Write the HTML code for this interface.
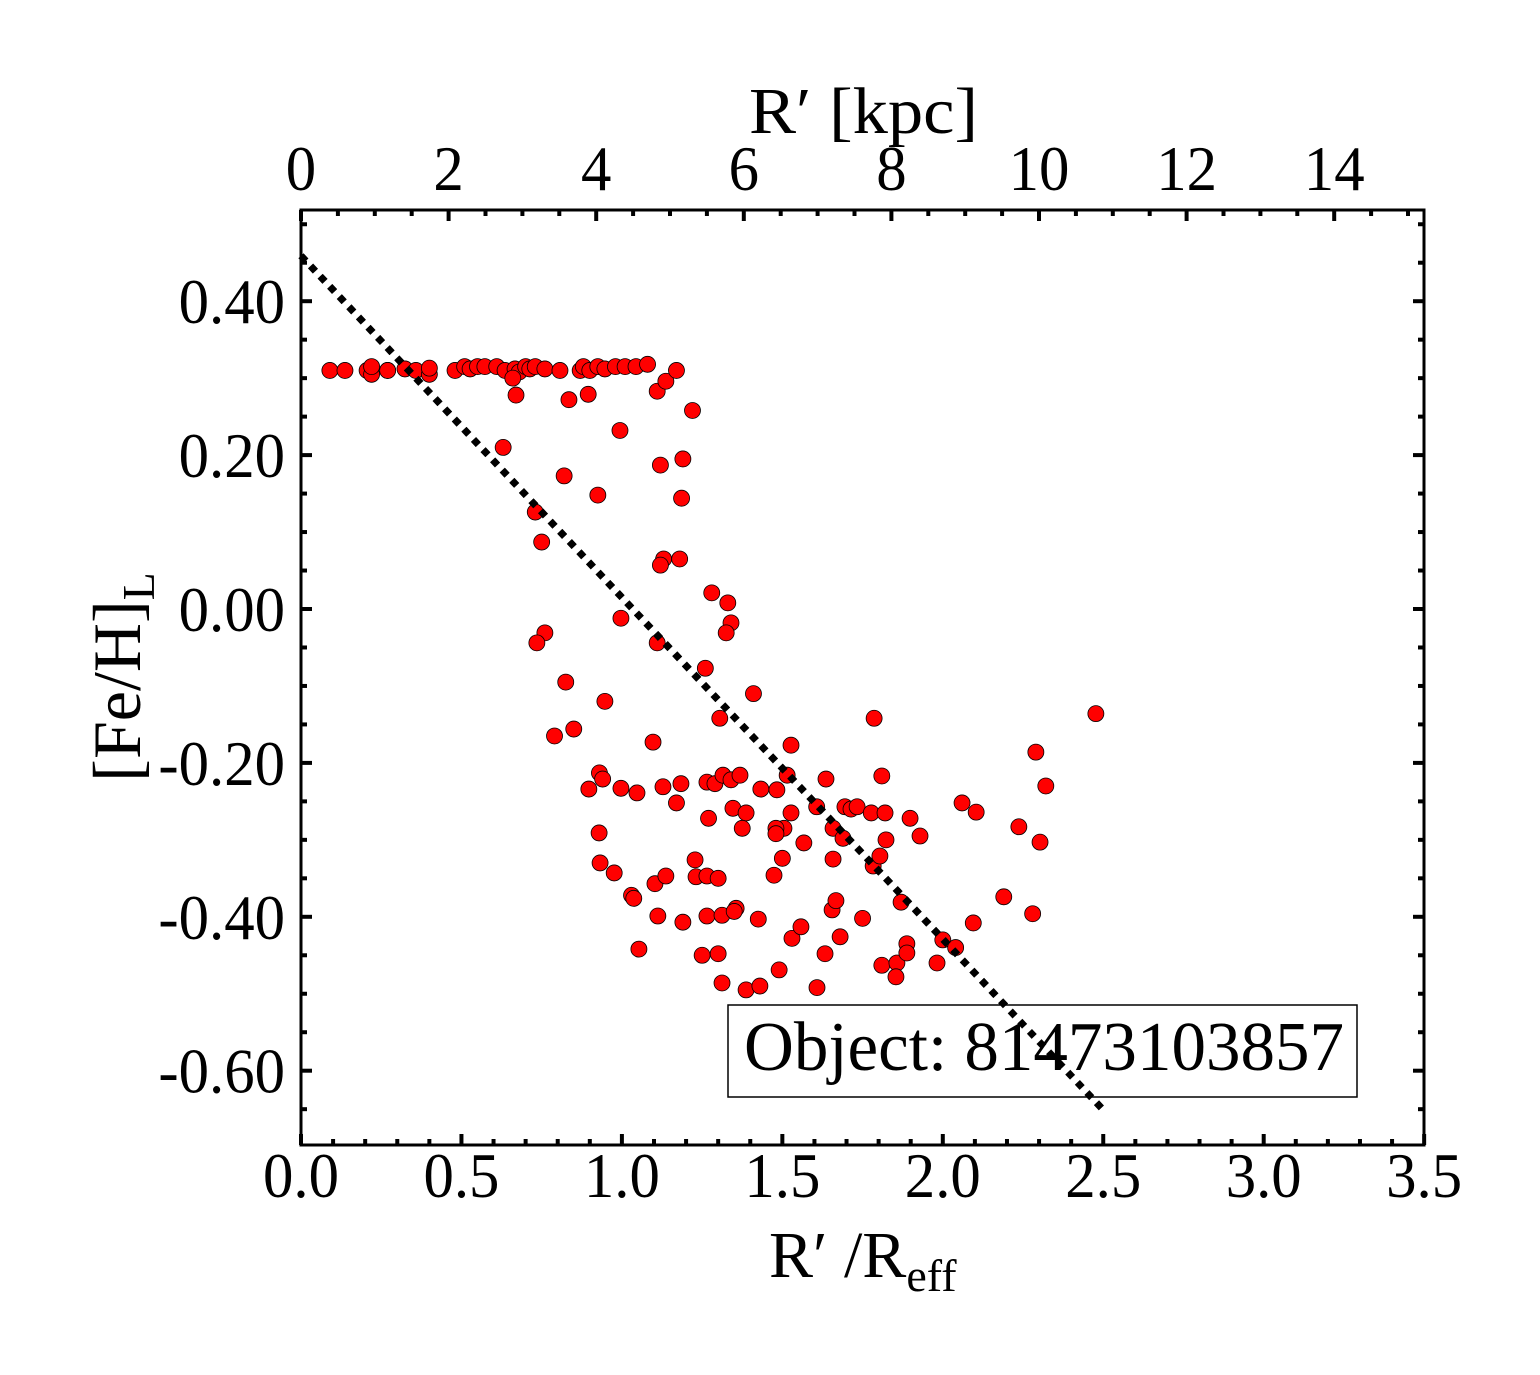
<!DOCTYPE html>
<html><head><meta charset="utf-8"><style>
html,body{margin:0;padding:0;background:#fff;}
svg{display:block;font-family:"Liberation Serif",serif;}
</style></head><body>
<svg id="chart" width="1540" height="1375" viewBox="0 0 1540 1375">
<rect x="0" y="0" width="1540" height="1375" fill="#fff"/>
<g id="plot"></g>
</svg>
<script>
const xVals = [0.09,0.137,0.206,0.22,0.22,0.27,0.27,0.324,0.358,0.4,0.4,0.48,0.51,0.527,0.55,0.573,0.61,0.636,0.667,0.68,0.7,0.713,0.73,0.76,0.807,0.87,0.88,0.9,0.925,0.947,0.98,1.01,1.044,1.08,
0.66,0.67,0.835,0.895,1.11,1.137,1.17,1.22,0.994,0.63,
0.82,0.925,1.12,1.19,1.186,0.73,0.75,1.13,1.12,1.18,1.28,1.33,1.34,1.325,0.997,0.76,0.735,1.11,1.26,0.825,0.947,1.41,1.305,0.79,0.85,1.097,1.527,1.786,2.477,2.29,
0.93,0.94,0.897,0.997,1.047,1.128,1.184,1.17,1.265,1.29,1.315,1.34,1.368,1.346,1.387,1.375,1.27,1.433,1.483,1.515,1.527,1.505,1.48,1.48,1.567,1.5,1.636,1.607,1.695,1.714,1.733,1.777,1.82,1.81,1.898,1.658,1.689,1.823,1.929,2.06,2.104,2.237,2.303,2.321,2.19,2.28,2.095,
0.929,0.932,0.976,1.03,1.037,1.103,1.137,1.228,1.231,1.265,1.3,1.053,1.112,1.19,1.265,1.312,1.356,1.35,1.425,1.25,1.3,1.312,1.387,1.43,1.49,1.53,1.558,1.474,1.633,1.608,1.655,1.667,1.68,1.75,1.658,1.783,1.804,1.87,1.81,1.857,1.854,1.888,1.888,1.982,2.0,2.04];
const yVals = [0.31,0.31,0.31,0.305,0.315,0.31,0.31,0.312,0.31,0.305,0.313,0.31,0.315,0.312,0.315,0.315,0.315,0.31,0.312,0.308,0.315,0.312,0.315,0.312,0.31,0.31,0.315,0.31,0.315,0.312,0.315,0.315,0.315,0.318,
0.30,0.278,0.272,0.279,0.283,0.296,0.31,0.258,0.232,0.21,
0.173,0.148,0.187,0.195,0.144,0.126,0.087,0.065,0.057,0.065,0.021,0.008,-0.018,-0.031,-0.012,-0.031,-0.044,-0.044,-0.077,-0.095,-0.12,-0.11,-0.142,-0.165,-0.156,-0.173,-0.177,-0.142,-0.136,-0.186,
-0.213,-0.221,-0.234,-0.233,-0.239,-0.231,-0.227,-0.252,-0.225,-0.227,-0.216,-0.222,-0.216,-0.259,-0.265,-0.285,-0.272,-0.234,-0.235,-0.216,-0.265,-0.285,-0.285,-0.292,-0.304,-0.324,-0.221,-0.257,-0.257,-0.26,-0.257,-0.265,-0.265,-0.217,-0.272,-0.285,-0.298,-0.3,-0.295,-0.252,-0.264,-0.283,-0.303,-0.23,-0.374,-0.396,-0.408,
-0.291,-0.33,-0.343,-0.372,-0.376,-0.357,-0.347,-0.326,-0.348,-0.347,-0.35,-0.442,-0.399,-0.407,-0.399,-0.398,-0.389,-0.393,-0.403,-0.45,-0.448,-0.486,-0.495,-0.49,-0.469,-0.428,-0.413,-0.346,-0.448,-0.492,-0.391,-0.379,-0.426,-0.402,-0.325,-0.334,-0.321,-0.381,-0.463,-0.46,-0.478,-0.435,-0.447,-0.46,-0.43,-0.44];
const fitLine = [0.459, -0.444]; // intercept, slope
const fitRange = [0, 2.5];
const xTickLabels = ["0.0","0.5","1.0","1.5","2.0","2.5","3.0","3.5"];
const xTicks = [0,0.5,1.0,1.5,2.0,2.5,3.0,3.5];
const topTicks = [0,2,4,6,8,10,12,14];
const topTickLabels = ["0","2","4","6","8","10","12","14"];
const yTicks = [0.4,0.2,0.0,-0.2,-0.4,-0.6];
const yTickLabels = ["0.40","0.20","0.00","-0.20","-0.40","-0.60"];

const L=301,R=1424,T=210,B=1145;
const sx=v=>L+v*320.9;
const sk=v=>L+v*73.8;
const sy=v=>609-v*769.5;
const NS="http://www.w3.org/2000/svg";
const g=document.getElementById('plot');
function mk(tag,attrs,parent){const e=document.createElementNS(NS,tag);for(const k in attrs)e.setAttribute(k,attrs[k]);(parent||g).appendChild(e);return e;}
function txt(s,x,y,size,anchor,sc){const t=mk('text',{x:0,y:0,'font-size':size,'text-anchor':anchor,transform:`translate(${x},${y}) scale(${sc||0.95},1)`});t.textContent=s;return t;}

const tk=mk('g',{stroke:'#000','stroke-width':4});


for(let i=0;i<=35;i++){const v=i/10,x=sx(v),len=(i%5==0)?11:6;
 mk('line',{x1:x,y1:B,x2:x,y2:B-len},tk);}
for(let i=0;i<=30;i++){const v=i/2,x=sk(v);if(x>R)break;const len=(i%4==0)?11:6;
 mk('line',{x1:x,y1:T,x2:x,y2:T+len},tk);}
for(let i=-14;i<=10;i++){const v=i*0.05,y=sy(v);if(y<T||y>B)continue;const len=(i%4==0)?11:6;
 mk('line',{x1:L,y1:y,x2:L+len,y2:y},tk);mk('line',{x1:R,y1:y,x2:R-len,y2:y},tk);}

const fr=mk('rect',{x:L,y:T,width:R-L,height:B-T,fill:'none',stroke:'#000','stroke-width':3});



const pts=mk('g',{fill:'#ff0000',stroke:'#000','stroke-width':0.8});


for(let i=0;i<xVals.length;i++){const c=mk('circle',{cx:sx(xVals[i]),cy:sy(yVals[i]),r:8},pts);
 
 }

const fl=mk('line',{x1:sx(fitRange[0]),y1:sy(fitLine[0]+fitLine[1]*fitRange[0]),x2:sx(fitRange[1]),y2:sy(fitLine[0]+fitLine[1]*fitRange[1]),stroke:'#000','stroke-width':7,'stroke-dasharray':'7 7'});



xTicks.forEach((v,i)=>{const t=txt(xTickLabels[i],sx(v),1197,64,'middle');
 
 });
topTicks.forEach((v,i)=>{const t=txt(topTickLabels[i],sk(v),190,64,'middle');
 
 });
yTicks.forEach((v,i)=>{const t=txt(yTickLabels[i],285,sy(v)+22,64,'end');
 
 });

const lb=mk('rect',{x:728,y:1005,width:629,height:92,fill:'#fff',stroke:'#000','stroke-width':1.5});


const lt=mk('text',{x:744,y:1070,'font-size':70,textLength:600,lengthAdjust:'spacingAndGlyphs'});
lt.textContent='Object: 81473103857';


const fl2=fl.cloneNode();g.appendChild(fl2);

const tt=mk('text',{x:749,y:133,'font-size':66,textLength:229,lengthAdjust:'spacingAndGlyphs'});
tt.textContent='R′ [kpc]';


const bt=mk('text',{x:769,y:1277,'font-size':66});
bt.innerHTML='<tspan>R′ /R</tspan><tspan font-size="46" dy="14">eff</tspan>';


const yt=mk('text',{x:0,y:0,'font-size':68,'text-anchor':'middle',transform:'translate(140,677) rotate(-90)'});
yt.innerHTML='<tspan>[Fe/H]</tspan><tspan font-size="46" dy="14">L</tspan>';


</script>
</body></html>
